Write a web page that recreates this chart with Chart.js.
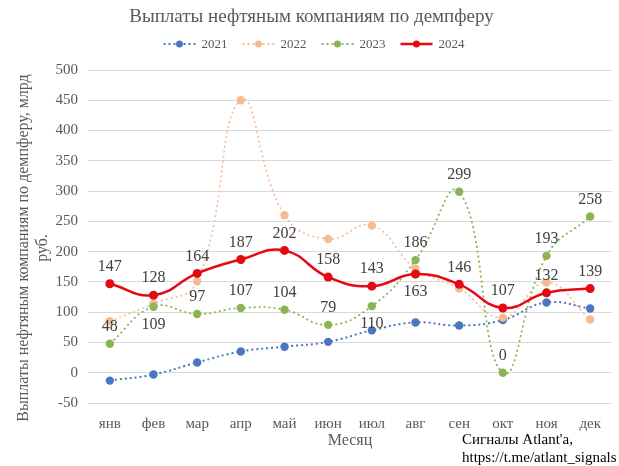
<!DOCTYPE html>
<html>
<head>
<meta charset="utf-8">
<script src="https://cdn.jsdelivr.net/npm/chart.js@4.4.1/dist/chart.umd.min.js"></script>
<style>
  html, body { margin: 0; padding: 0; background: #fff; }
  #wrap { width: 619px; height: 466px; position: relative; }
</style>
</head>
<body>
<div id="wrap"><canvas id="damperChart"></canvas></div>
<script>
  const months = ['янв', 'фев', 'мар', 'апр', 'май', 'июн', 'июл', 'авг', 'сен', 'окт', 'ноя', 'дек'];
  const years = ['2021', '2022', '2023', '2024'];
  const pay2021 = [-13, -3, 17, 35, 43, 51, 70, 83, 78, 87, 116, 106];
  const pay2022 = [85, 114, 151, 450, 260, 221, 243, 172, 139, 91, 149, 88];
  const pay2023 = [48, 109, 97, 107, 104, 79, 110, 186, 299, 0, 193, 258];
  const pay2024 = [147, 128, 164, 187, 202, 158, 143, 163, 146, 107, 132, 139];
  const yMin = -50, yMax = 500, yStep = 50;

  const chartTitle = 'Выплаты нефтяным компаниям по демпферу';
  const yTitle = ['Выплаты нефтяным компаниям по демпферу, млрд', 'руб.'];
  const xTitle = 'Месяц';
  const credit = ["Сигналы Atlant'a,", 'https://t.me/atlant_signals'];

  const colors = {
    '2021': '#4a76c0',
    '2022': '#f5bb92',
    '2023': '#8db356',
    '2024': '#e50914'
  };

  // which labelled points have the value written below the marker
  const labelBelow = { '2023': [1, 6], '2024': [7] };
  const labelled = ['2023', '2024'];

  const serif = '"Liberation Serif", "Times New Roman", serif';

  const dotted = (year, values, order, width) => ({
    label: year,
    data: values,
    borderColor: colors[year],
    backgroundColor: colors[year],
    borderWidth: width,
    borderDash: [2, 3],
    pointRadius: 4.2,
    pointHoverRadius: 4.2,
    pointBorderWidth: 0,
    tension: 0.45,
    order: order
  });

  const decor = {
    id: 'decor',
    afterDatasetsDraw(chart) {
      const ctx = chart.ctx;
      ctx.save();
      ctx.font = '16px ' + serif;
      ctx.fillStyle = '#404040';
      ctx.textAlign = 'center';
      ctx.textBaseline = 'middle';
      chart.data.datasets.forEach((ds, i) => {
        if (!labelled.includes(ds.label)) return;
        const meta = chart.getDatasetMeta(i);
        const below = labelBelow[ds.label] || [];
        meta.data.forEach((pt, j) => {
          const dy = below.includes(j) ? 18 : -17;
          ctx.fillText(String(ds.data[j]), pt.x, pt.y + dy);
        });
      });
      ctx.restore();
    },
    afterDraw(chart) {
      const ctx = chart.ctx;
      const area = chart.chartArea;
      ctx.save();

      // title
      ctx.font = '19px ' + serif;
      ctx.fillStyle = '#595959';
      ctx.textAlign = 'center';
      ctx.textBaseline = 'middle';
      ctx.fillText(chartTitle, chart.width / 2 + 2, 17);

      // legend
      ctx.font = '13px ' + serif;
      const lineLen = 32, gap = 6, itemGap = 15;
      const widths = years.map(y => lineLen + gap + ctx.measureText(y).width);
      const total = widths.reduce((a, b) => a + b, 0) + itemGap * (years.length - 1);
      let x = 314 - total / 2;
      const ly = 44;
      years.forEach((y, i) => {
        const solid = y === '2024';
        ctx.strokeStyle = colors[y];
        ctx.lineWidth = solid ? 2.5 : 1.8;
        ctx.setLineDash(solid ? [] : [2, 3]);
        ctx.beginPath();
        ctx.moveTo(x, ly);
        ctx.lineTo(x + lineLen, ly);
        ctx.stroke();
        ctx.setLineDash([]);
        ctx.fillStyle = colors[y];
        ctx.beginPath();
        ctx.arc(x + lineLen / 2, ly, 3.5, 0, Math.PI * 2);
        ctx.fill();
        ctx.fillStyle = '#595959';
        ctx.textAlign = 'left';
        ctx.fillText(y, x + lineLen + gap, ly + 1);
        x += widths[i] + itemGap;
      });

      // y axis title
      ctx.font = '16px ' + serif;
      ctx.fillStyle = '#595959';
      ctx.textAlign = 'center';
      ctx.translate(24, 248);
      ctx.rotate(-Math.PI / 2);
      ctx.fillText(yTitle[0], 0, 0);
      ctx.fillText(yTitle[1], 0, 19);
      ctx.setTransform(1, 0, 0, 1, 0, 0);

      // x axis title
      ctx.fillText(xTitle, (area.left + area.right) / 2, 441);

      // credit
      ctx.font = '15px ' + serif;
      ctx.fillStyle = '#000';
      ctx.textAlign = 'left';
      ctx.fillText(credit[0], 462, 440);
      ctx.fillText(credit[1], 462, 458);
      ctx.restore();
    }
  };

  new Chart(document.getElementById('damperChart').getContext('2d'), {
    type: 'line',
    data: {
      labels: months,
      datasets: [
        {
          label: '2024',
          data: pay2024,
          borderColor: colors['2024'],
          backgroundColor: colors['2024'],
          borderWidth: 2.5,
          pointRadius: 4.5,
          pointHoverRadius: 4.5,
          pointBorderWidth: 0,
          tension: 0.45,
          order: 0
        },
        dotted('2023', pay2023, 1, 1.8),
        dotted('2022', pay2022, 2, 1.6),
        dotted('2021', pay2021, 3, 2)
      ]
    },
    options: {
      responsive: true,
      maintainAspectRatio: false,
      animation: false,
      layout: { padding: { top: 70, right: 7, left: 0, bottom: 0 } },
      scales: {
        x: {
          offset: true,
          grid: { display: false, offset: true },
          border: { display: false },
          ticks: { color: '#595959', font: { family: serif, size: 15 }, padding: 4 },
          afterFit: s => { s.height = 63; }
        },
        y: {
          min: yMin,
          max: yMax,
          ticks: { stepSize: yStep, color: '#595959', font: { family: serif, size: 15 }, padding: 10 },
          grid: { color: '#d9d9d9', lineWidth: 1, drawTicks: false },
          border: { display: false },
          afterFit: s => { s.width = 88; }
        }
      },
      plugins: {
        legend: { display: false },
        title: { display: false },
        tooltip: { enabled: false }
      }
    },
    plugins: [decor]
  });
</script>
</body>
</html>
